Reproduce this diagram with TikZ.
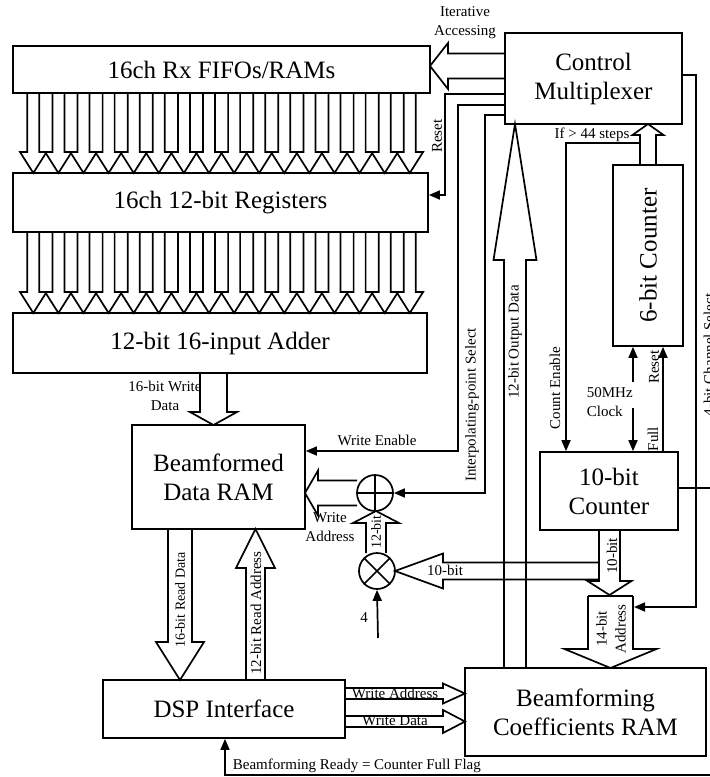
\documentclass[tikz,border=0pt]{standalone}
\usepackage{fontspec}
\setmainfont{Liberation Serif}
\usetikzlibrary{arrows.meta}
\newcommand\bigf{\fontsize{25}{29}\selectfont}
\newcommand\smf{\fontsize{15}{19}\selectfont}
% vertical hollow arrow: x, ystart, ybase, ytip, shaft half, head half
\newcommand\vhol[6]{\draw[hol] ({#1-#5},#2) -- ({#1-#5},#3) -- ({#1-#6},#3) -- (#1,#4) -- ({#1+#6},#3) -- ({#1+#5},#3) -- ({#1+#5},#2);}
% horizontal hollow arrow: y, xstart, xbase, xtip, shaft half, head half
\newcommand\hhol[6]{\draw[hol] (#2,{#1-#5}) -- (#3,{#1-#5}) -- (#3,{#1-#6}) -- (#4,#1) -- (#3,{#1+#6}) -- (#3,{#1+#5}) -- (#2,{#1+#5});}
\begin{document}
\begin{tikzpicture}[x=1pt,y=-1pt,line width=1.7pt,
  box/.style={draw,inner sep=0pt,align=center,font=\bigf},
  lbl/.style={inner sep=0pt,font=\smf,align=center},
  hol/.style={line join=miter},
  sig/.style={-{Triangle[length=11pt,width=9pt]}}]
\fill[white] (0,0) rectangle (710,777);
\useasboundingbox (0,0) rectangle (710,777);

% boxes
\node[box,minimum width=417pt,minimum height=47pt] (fifo) at (221.5,69.5) {16ch Rx FIFOs/RAMs};
\node[box,minimum width=415pt,minimum height=59pt] (regs) at (220.5,202.5) {16ch 12-bit Registers};
\node[box,minimum width=414pt,minimum height=60pt] (adder) at (220,343) {12-bit 16-input Adder};
\node[box,minimum width=177pt,minimum height=91pt] (cm) at (593.5,78.5) {Control\\Multiplexer};
\node[box,minimum width=70pt,minimum height=181pt] (six) at (648,255.5) {};
\node[rotate=90,font=\bigf,inner sep=0pt] (sixt) at (six.center) {6-bit Counter};
\node[box,minimum width=138pt,minimum height=78pt] (ten) at (609,491) {10-bit\\Counter};
\node[box,minimum width=173pt,minimum height=104pt] (bdr) at (218.5,477) {Beamformed\\Data RAM};
\node[box,minimum width=242pt,minimum height=58pt] (dsp) at (224,709) {DSP Interface};
\node[box,minimum width=241pt,minimum height=88pt] (bcr) at (585.5,712) {Beamforming\\Coefficients RAM};
\node[draw,circle,minimum size=36pt,inner sep=0pt] (sum) at (375,493) {};
\draw (sum.north) -- (sum.south) (sum.west) -- (sum.east);
\node[draw,circle,minimum size=36pt,inner sep=0pt] (mul) at (377,571) {};
\draw (mul.north west) -- (mul.south east) (mul.north east) -- (mul.south west);

% hollow buses
\foreach \i in {0,...,15}{
  \pgfmathsetmacro\xx{33.3+25.1*\i}
  \vhol{\xx}{93}{152}{173}{6}{13.3}
  \vhol{\xx}{232}{292}{313}{6}{13.3}
}
\hhol{66}{505}{448}{430}{12.5}{23}
\vhol{213.5}{373}{412}{425}{13.5}{23.5}
\hhol{493}{357}{318}{305}{12.5}{22.5}
\vhol{376}{553}{523}{511}{10}{23}
\hhol{571}{599}{443}{395}{8.5}{17.5}
\vhol{609.5}{530}{581}{595}{10.5}{22}
\vhol{610.5}{596}{649}{668}{22.5}{46}
\draw (588,596) -- (633,596);
\vhol{515}{668}{260}{124}{11}{21.5}
\vhol{648}{165}{135}{124}{8}{15.5}
\vhol{180}{529}{642}{680}{12}{24}
\vhol{255.5}{680}{568}{529}{9.5}{19.5}
\hhol{693.5}{345}{443}{465}{5.5}{10}
\hhol{721.5}{345}{443}{465}{5.5}{11.5}

% control lines
\draw[sig] (cm.west |- 0,94) -- (445,94) -- (445,195) -- (regs.east |- 0,195);
\draw[sig] (cm.west |- 0,105) -- (458,105) -- (458,451) -- (bdr.east |- 0,451);
\draw[sig] (cm.west |- 0,115) -- (485,115) -- (485,493) -- (sum.east);
\draw[sig] (640,143) -- (566,143) -- (ten.north -| 566,0);
\draw[sig] (cm.east |- 0,75) -- (696,75) -- (696,607) -- (634,607);
\draw[sig] (633,382) -- (six.south -| 633,0);
\draw[sig] (633,408) -- (ten.north -| 633,0);
\draw[sig] (ten.north -| 663,0) -- (six.south -| 663,0);
\draw (ten.east |- 0,488) -- (712,488);
\draw[sig] (378,638) -- (mul.south);
\draw[sig] (712,775) -- (225,775) -- (dsp.south -| 225,0);

% labels
\node[lbl] at (465,23) {Iterative\\Accessing};
\node[lbl,rotate=90] at (437,136) {Reset};
\node[lbl,rotate=90] at (472,405) {Interpolating-point Select};
\node[lbl,rotate=90] at (515,342) {12-bit Output Data};
\node[lbl] at (592,135) {If > 44 steps};
\node[lbl,rotate=90] at (555,388) {Count Enable};
\node[lbl,rotate=90] at (709,355) {4-bit Channel Select};
\node[lbl,align=left,anchor=west] at (586,402) {50MHz\\Clock};
\node[lbl,rotate=90] at (654,367) {Reset};
\node[lbl,rotate=90] at (653,439) {Full};
\node[lbl] at (165,396) {16-bit Write\\Data};
\node[lbl] at (377,440) {Write Enable};
\node[lbl] at (330,527) {Write\\Address};
\node[lbl,rotate=90,font=\fontsize{14}{15}\selectfont] at (376,532) {12-bit};
\node[lbl] at (445,570) {10-bit};
\node[lbl,rotate=90] at (612,556) {10-bit};
\node[lbl,rotate=90] at (611,629) {14-bit\\Address};
\node[lbl] at (364,618) {4};
\node[lbl,rotate=90,font=\fontsize{14}{15}\selectfont] at (180,600) {16-bit Read Data};
\node[lbl,rotate=90] at (256,613) {12-bit Read Address};
\node[lbl] at (395,693) {Write Address};
\node[lbl] at (395,721) {Write Data};
\node[lbl,anchor=west] at (232,766) {Beamforming Ready = Counter Full Flag};
\end{tikzpicture}
\end{document}
